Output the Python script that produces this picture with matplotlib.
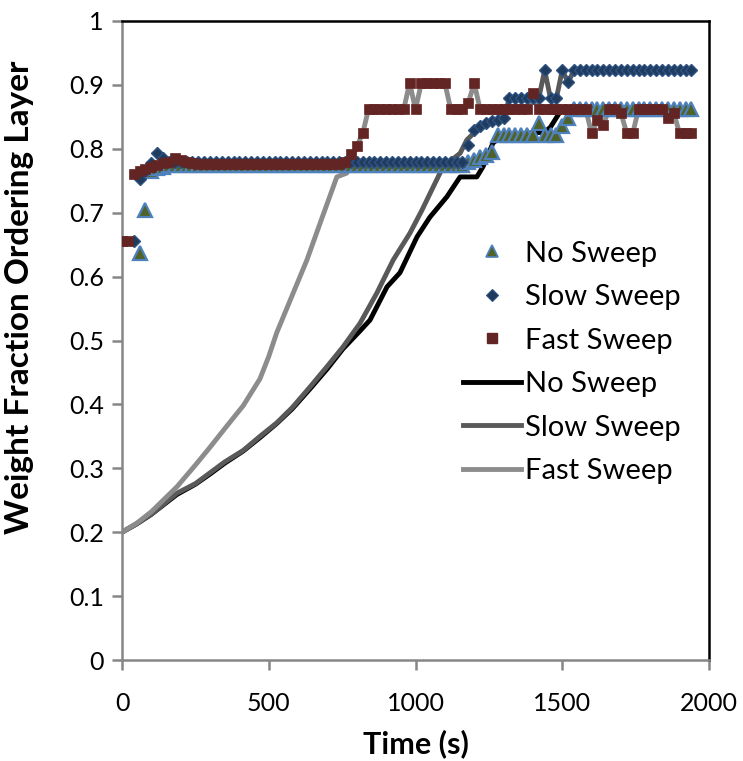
import matplotlib
matplotlib.use("Agg")
import matplotlib.pyplot as plt
from matplotlib.lines import Line2D
import numpy as np

plt.rcParams['font.family'] = ['Lato', 'DejaVu Sans']

# ---------------- data ----------------
# marker series (sampled every 20 s)
no_sweep_pts_start = 60
no_sweep_pts = ([0.637, 0.704, 0.765, 0.770, 0.772] + [0.774] * 51 +
                [0.779, 0.783, 0.787, 0.790, 0.795] + [0.822] * 7 +
                [0.840, 0.822, 0.822, 0.822, 0.835, 0.848] + [0.862] * 21)

slow_sweep_pts_start = 40
slow_sweep_pts = ([0.655, 0.752, 0.765, 0.778, 0.793, 0.785, 0.779] + [0.779] * 50 +
                  [0.806, 0.829, 0.835, 0.840, 0.843, 0.845, 0.848] + [0.879] * 6 +
                  [0.923, 0.879, 0.879, 0.923, 0.904] + [0.923] * 21)

fast_sweep_pts_start = 0
fast_sweep_pts = ([0.655, 0.655, 0.760, 0.765, 0.768, 0.772, 0.775, 0.778, 0.780,
                   0.786, 0.782, 0.779, 0.777] + [0.776] * 25 +
                  [0.780, 0.792, 0.804, 0.824] + [0.862] * 7 + [0.903, 0.862] +
                  [0.903] * 5 + [0.862] * 3 + [0.872, 0.903] + [0.862] * 9 +
                  [0.887] + [0.862] * 9 +
                  [0.824, 0.845, 0.838, 0.862, 0.862, 0.856, 0.824, 0.824] +
                  [0.862] * 5 + [0.848, 0.856] + [0.824] * 3)

# model curves
no_sweep_t = [0, 50, 100, 187, 250, 300, 350, 413, 470, 527, 580, 640, 700, 753,
              811, 845, 903, 947, 1005, 1049, 1107, 1152, 1209, 1230, 1264, 1288,
              1300, 1440, 1460, 1490, 1510, 1940]
no_sweep_v = [0.200, 0.213, 0.228, 0.259, 0.275, 0.291, 0.308, 0.327, 0.348, 0.370,
              0.393, 0.424, 0.456, 0.487, 0.515, 0.532, 0.584, 0.606, 0.662, 0.693,
              0.725, 0.756, 0.756, 0.772, 0.809, 0.818, 0.822, 0.826, 0.834, 0.856,
              0.862, 0.862]

slow_sweep_t = [0, 50, 100, 187, 250, 300, 350, 413, 470, 527, 580, 640, 700, 753,
                811, 868, 924, 981, 1022, 1060, 1094, 1152, 1175, 1209, 1243, 1280,
                1300, 1320, 1420, 1440, 1460, 1480, 1500, 1520, 1540, 1940]
slow_sweep_v = [0.200, 0.213, 0.228, 0.261, 0.276, 0.293, 0.310, 0.328, 0.350, 0.371,
                0.395, 0.427, 0.460, 0.490, 0.527, 0.574, 0.626, 0.668, 0.704, 0.740,
                0.772, 0.793, 0.814, 0.829, 0.837, 0.845, 0.848, 0.879, 0.879, 0.923,
                0.879, 0.879, 0.923, 0.904, 0.923, 0.923]

fast_sweep_t = [0, 50, 100, 187, 250, 300, 350, 413, 470, 500, 527, 583, 630, 680, 732,
                766, 780, 800, 820, 840, 960, 980, 1000, 1020, 1100, 1120, 1160, 1180,
                1200, 1220, 1380, 1400, 1420, 1580, 1600, 1620, 1640, 1660, 1680, 1700,
                1720, 1740, 1760, 1840, 1860, 1880, 1900, 1940]
fast_sweep_v = [0.200, 0.214, 0.232, 0.271, 0.305, 0.333, 0.362, 0.398, 0.440, 0.475,
                0.512, 0.574, 0.626, 0.690, 0.756, 0.762, 0.778, 0.804, 0.824, 0.862,
                0.862, 0.903, 0.862, 0.903, 0.903, 0.862, 0.862, 0.872, 0.903, 0.862,
                0.862, 0.887, 0.862, 0.862, 0.824, 0.845, 0.838, 0.862, 0.862, 0.856,
                0.824, 0.824, 0.862, 0.862, 0.848, 0.856, 0.824, 0.824]

labels = ["No Sweep", "Slow Sweep", "Fast Sweep"]
xticks = [0, 500, 1000, 1500, 2000]
yticks = [0, 0.1, 0.2, 0.3, 0.4, 0.5, 0.6, 0.7, 0.8, 0.9, 1.0]
ytick_labels = ["0", "0.1", "0.2", "0.3", "0.4", "0.5", "0.6", "0.7", "0.8", "0.9", "1"]

# ---------------- styles ----------------
tri_face, tri_edge = "#4F6228", "#4F81BD"
dia_face, dia_edge = "#1F3B5E", "#2E5283"
sq_face = "#632523"
line_cols = ["#000000", "#595959", "#8C8C8C"]

fig = plt.figure(figsize=(7.43, 7.61), dpi=100)
ax = fig.add_axes([122 / 743, 1 - 660 / 761, 587 / 743, 639 / 761])

step = 20
t_no = np.arange(len(no_sweep_pts)) * step + no_sweep_pts_start
t_slow = np.arange(len(slow_sweep_pts)) * step + slow_sweep_pts_start
t_fast = np.arange(len(fast_sweep_pts)) * step + fast_sweep_pts_start

lw = 3.5
ax.plot(no_sweep_t, no_sweep_v, color=line_cols[0], lw=lw, zorder=2, solid_joinstyle='round')
ax.plot(slow_sweep_t, slow_sweep_v, color=line_cols[1], lw=lw, zorder=2, solid_joinstyle='round')
ax.plot(fast_sweep_t, fast_sweep_v, color=line_cols[2], lw=lw, zorder=2, solid_joinstyle='round')

ax.plot(t_no, no_sweep_pts, ls='none', marker='^', ms=10, mfc=tri_face, mec=tri_edge,
        mew=1.6, zorder=3)
ax.plot(t_slow, slow_sweep_pts, ls='none', marker='D', ms=6.5, mfc=dia_face, mec=dia_edge,
        mew=1.0, zorder=4)
ax.plot(t_fast, fast_sweep_pts, ls='none', marker='s', ms=7.5, mfc=sq_face, mec=sq_face,
        mew=0.5, zorder=5)

ax.set_xlim(0, 2000)
ax.set_ylim(0, 1)
ax.set_xticks(xticks)
ax.set_xticklabels([str(v) for v in xticks])
ax.set_yticks(yticks)
ax.set_yticklabels(ytick_labels)

gray = "#868686"
for s in ['left', 'bottom']:
    ax.spines[s].set_color(gray)
    ax.spines[s].set_linewidth(1.8)
for s in ['top', 'right']:
    ax.spines[s].set_color('black')
    ax.spines[s].set_linewidth(1.8)
ax.tick_params(axis='both', colors=gray, labelcolor='black', labelsize=18,
               length=7, width=1.8, direction='out')
ax.tick_params(axis='x', pad=16)
ax.tick_params(axis='y', pad=6)

ax.set_xlabel("Time (s)", fontsize=22, fontweight='bold', labelpad=10)
ax.set_ylabel("Weight Fraction Ordering Layer", fontsize=24, fontweight='bold')
ax.yaxis.set_label_coords((34 - 122) / 587, (660 - 297) / 639)

handles = [
    Line2D([], [], ls='none', marker='^', ms=9, mfc=tri_face, mec=tri_edge, mew=1.2),
    Line2D([], [], ls='none', marker='D', ms=6, mfc=dia_face, mec=dia_edge, mew=0.8),
    Line2D([], [], ls='none', marker='s', ms=6.5, mfc=sq_face, mec=sq_face),
    Line2D([], [], color=line_cols[0], lw=lw),
    Line2D([], [], color=line_cols[1], lw=lw),
    Line2D([], [], color=line_cols[2], lw=lw),
]
leg = ax.legend(handles, labels + labels, loc='upper left',
                bbox_to_anchor=(451 / 743, 1 - 229 / 761), bbox_transform=fig.transFigure,
                frameon=False, fontsize=21, handlelength=2.0, handletextpad=0.15,
                labelspacing=0.6, borderaxespad=0)

fig.savefig("out.png", dpi=100)
